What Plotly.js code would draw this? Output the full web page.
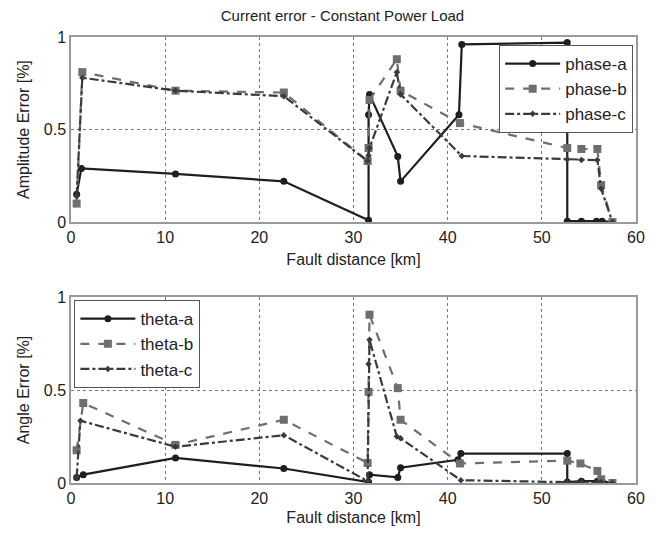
<!DOCTYPE html>
<html><head><meta charset="utf-8">
<script src="https://cdn.plot.ly/plotly-3.0.1.min.js"></script>
<style>body{margin:0;background:#fff}#c{width:665px;height:533px}</style>
</head><body><div id="c"></div>
<script>
// Top: amplitude error
const phaseA_x = [0.6, 1.1, 11.1, 22.6, 31.6, 31.6, 31.7, 34.7, 35.0, 41.2, 41.5, 52.7, 52.7, 54.2, 55.8, 56.4, 57.5];
const phaseA_y = [0.15, 0.29, 0.26, 0.22, 0.01, 0.58, 0.69, 0.355, 0.22, 0.58, 0.96, 0.97, 0.005, 0.005, 0.005, 0.005, 0.0];
const phaseB_x = [0.6, 1.2, 11.1, 22.6, 31.5, 31.6, 31.7, 34.6, 35.0, 41.3, 52.7, 54.2, 55.9, 56.3, 57.5];
const phaseB_y = [0.10, 0.81, 0.71, 0.70, 0.33, 0.40, 0.66, 0.88, 0.71, 0.535, 0.40, 0.395, 0.395, 0.20, 0.0];
const phaseC_x = [0.6, 1.2, 11.1, 22.6, 31.5, 31.6, 31.7, 34.6, 35.0, 41.5, 52.7, 54.2, 55.9, 56.3, 57.5];
const phaseC_y = [0.14, 0.78, 0.71, 0.68, 0.33, 0.36, 0.40, 0.81, 0.69, 0.357, 0.34, 0.335, 0.335, 0.18, 0.0];
// Bottom: angle error
const thetaA_x = [0.6, 1.3, 11.1, 22.6, 31.6, 31.7, 34.7, 35.0, 41.1, 41.4, 52.7, 52.7, 54.2, 55.9, 56.4, 57.5];
const thetaA_y = [0.03, 0.045, 0.135, 0.078, 0.005, 0.045, 0.03, 0.082, 0.125, 0.158, 0.158, 0.005, 0.01, 0.01, 0.01, 0.0];
const thetaB_x = [0.6, 1.3, 11.1, 22.6, 31.5, 31.6, 31.7, 34.7, 35.0, 41.3, 52.7, 54.1, 55.9, 56.3, 57.5];
const thetaB_y = [0.176, 0.43, 0.205, 0.34, 0.108, 0.49, 0.905, 0.51, 0.34, 0.105, 0.12, 0.105, 0.065, 0.02, 0.0];
const thetaC_x = [0.6, 1.0, 11.1, 22.6, 31.5, 31.6, 31.7, 34.6, 35.0, 41.4, 52.7, 54.2, 55.9, 56.3, 57.5];
const thetaC_y = [0.03, 0.335, 0.195, 0.257, 0.01, 0.64, 0.77, 0.25, 0.24, 0.015, 0.005, 0.005, 0.005, 0.005, 0.0];

const cA = '#1e1e1e', cB = '#6e6e6e', cC = '#3a3a3a';
function tr(x, y, name, color, dash, sym, size, xa, ya, lg) {
  return {x: x, y: y, name: name, type: 'scatter', mode: 'lines+markers',
    line: {color: color, width: 2.2, dash: dash},
    marker: {color: color, symbol: sym, size: size},
    xaxis: xa, yaxis: ya, legend: lg};
}
const data = [
  tr(phaseA_x, phaseA_y, 'phase-a', cA, 'solid', 'circle', 7, 'x', 'y', 'legend'),
  tr(phaseB_x, phaseB_y, 'phase-b', cB, 'dash', 'square', 8, 'x', 'y', 'legend'),
  tr(phaseC_x, phaseC_y, 'phase-c', cC, 'dashdot', 'diamond', 5, 'x', 'y', 'legend'),
  tr(thetaA_x, thetaA_y, 'theta-a', cA, 'solid', 'circle', 7, 'x2', 'y2', 'legend2'),
  tr(thetaB_x, thetaB_y, 'theta-b', cB, 'dash', 'square', 8, 'x2', 'y2', 'legend2'),
  tr(thetaC_x, thetaC_y, 'theta-c', cC, 'dashdot', 'diamond', 5, 'x2', 'y2', 'legend2')
];
const font = {family: 'Liberation Sans, Arial, sans-serif', color: '#222'};
function xax(anchor, standoff) {
  return {anchor: anchor, range: [0, 60], tickvals: [0,10,20,30,40,50,60], showgrid: true,
    gridcolor: '#777', griddash: 'dot', gridwidth: 1, zeroline: false,
    showline: true, mirror: true, linecolor: '#999', linewidth: 1.5, ticks: '',
    tickfont: {size: 16}, title: {text: 'Fault distance [km]', font: {size: 16}, standoff: standoff}};
}
function yax(anchor, domain, title) {
  return {anchor: anchor, domain: domain, range: [0, 1], tickvals: [0, 0.5, 1], ticktext: ['0','0.5','1'],
    showgrid: true, gridcolor: '#777', griddash: 'dot', gridwidth: 1, zeroline: false,
    showline: true, mirror: true, linecolor: '#999', linewidth: 1.5, ticks: '',
    tickfont: {size: 16}, title: {text: title, font: {size: 16}, standoff: 10}};
}
const layout = {
  width: 665, height: 533, paper_bgcolor: '#fff', plot_bgcolor: '#fff',
  margin: {l: 71, r: 29, t: 37, b: 50},
  font: font, showlegend: true,
  title: {text: 'Current error - Constant Power Load', font: {size: 15}, x: 0.515, xanchor: 'center', y: 0.98, yanchor: 'top'},
  xaxis: xax('y', 9), yaxis: yax('x', [0.585, 1], 'Amplitude Error [%]'),
  xaxis2: xax('y2', 6), yaxis2: yax('x2', [0, 0.417], 'Angle Error [%]'),
  legend: {x: 0.995, y: 0.982, xanchor: 'right', yanchor: 'top', bgcolor: '#fff',
    bordercolor: '#555', borderwidth: 1, font: {size: 17}, tracegroupgap: 0, itemwidth: 55},
  legend2: {x: 0.006, y: 0.41, xanchor: 'left', yanchor: 'top', bgcolor: '#fff',
    bordercolor: '#555', borderwidth: 1, font: {size: 17}, tracegroupgap: 0, itemwidth: 55}
};
Plotly.newPlot('c', data, layout, {displayModeBar: false});
</script></body></html>
